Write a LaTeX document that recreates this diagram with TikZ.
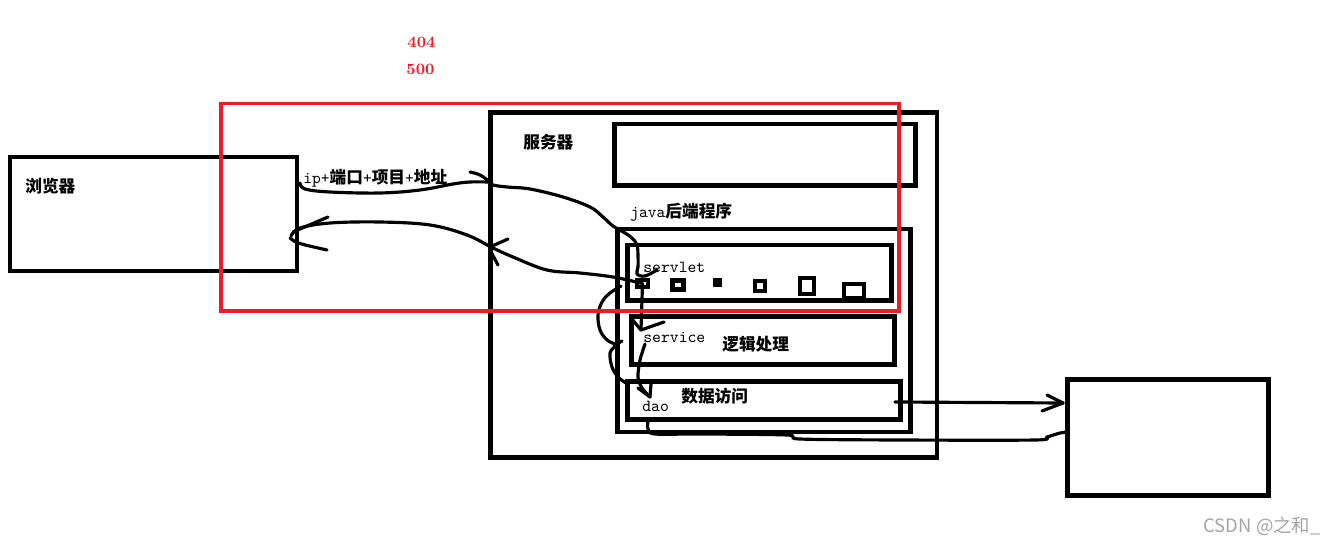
\documentclass[tikz,border=0pt]{standalone}
\usepackage{fontspec}
\newfontfamily\cjk{Noto Sans CJK SC}
\usetikzlibrary{positioning}
\definecolor{paintred}{RGB}{237,28,36}
\definecolor{markgray}{RGB}{165,165,165}

\begin{document}
\begin{tikzpicture}[x=0.02cm, y=-0.02cm,
    box/.style={draw, line width=2.8pt, inner sep=0pt, outer sep=0pt},
    redframe/.style={draw=paintred, line width=2.2pt, inner sep=0pt},
    pad/.style={draw, line width=2.4pt, inner sep=0pt},
    hand/.style={line width=1.8pt, line cap=round, line join=round},
    zh/.style={font=\cjk\bfseries\fontsize{9.5}{11}\selectfont, inner sep=0pt},
    latin/.style={font=\ttfamily\fontsize{9.6}{11}\selectfont, inner sep=0pt},
    errcode/.style={font=\bfseries\fontsize{9}{11}\selectfont, text=paintred, inner sep=0pt}
]

\fill[white] (0,0) rectangle (1337,544);
\useasboundingbox (0,0) rectangle (1337,544);

% ステータスコード
\node[errcode] (e404) at (421.5,42.5) {404};
\node[errcode] (e500) at (420.5,69.5) {500};

% 浏览器
\node[box, minimum width=5.74cm, minimum height=2.28cm] (browser) at (153.5,214) {};
\node[zh, anchor=west] (browserlabel) at (25,186) {浏览器};

% 服务器
\node[box, minimum width=8.93cm, minimum height=6.9cm] (server) at (713.75,285) {};
\node[zh, anchor=west] (serverlabel) at (523,142.5) {服务器};
\node[box, minimum width=6.02cm, minimum height=1.23cm] (topbox) at (765,154.75) {};
\node[zh, anchor=west] (javalabel) at (630,212) {{\mdseries\ttfamily java}后端程序};

% java后端程序の層
\node[box, minimum width=5.86cm, minimum height=4.06cm] (java) at (764,330.5) {};
\node[box, minimum width=5.28cm, minimum height=1.11cm] (servlet) at (759.5,272.75) {};
\node[box, minimum width=5.26cm, minimum height=0.96cm] (service) at (763,340.5) {};
\node[box, minimum width=5.46cm, minimum height=0.76cm] (dao) at (764,400.5) {};
\node[latin, anchor=west] (servletlabel) at (643,267) {servlet};
\node[latin, anchor=west] (servicelabel) at (643,337) {service};
\node[zh, anchor=west] (logiclabel) at (722,344.5) {逻辑处理};
\node[latin, anchor=west] (daolabel) at (642,406) {dao};
\node[zh, anchor=west] (datalabel) at (681,396.5) {数据访问};

% servlet の小さい四角
\node[pad, minimum width=0.22cm, minimum height=0.14cm] (pad1) at (642.5,283.5) {};
\node[pad, minimum width=0.22cm, minimum height=0.18cm] (pad2) at (678,285) {};
\node[fill, minimum size=0.18cm, inner sep=0pt] (pad3) at (717.5,282.5) {};
\node[pad, minimum size=0.19cm] (pad4) at (760,286) {};
\node[pad, minimum width=0.29cm, minimum height=0.33cm] (pad5) at (807,286) {};
\node[pad, minimum width=0.39cm, minimum height=0.27cm] (pad6) at (854,291) {};

% データベース
\node[box, minimum width=4.02cm, minimum height=2.32cm] (db) at (1168,437.5) {};

% リクエスト
\node[zh, anchor=west] (urllabel) at (303,178) {{\mdseries\ttfamily ip+}端口{\mdseries\ttfamily +}项目{\mdseries\ttfamily +}地址};
\coordinate (ipstart) at (300,183);
\coordinate (ipend) at (489,182);
\draw[hand] plot[smooth, tension=0.6] coordinates {(ipstart) (305,189) (330,192) (380,193) (420,190) (453,184) (470,182) (ipend)};
\draw[hand] plot[smooth, tension=0.6] coordinates {(470,172) (480,175) (490,182) (493,185) (507,187) (530,189) (563,197) (590,207) (603,217) (613,226) (625,233) (632,238) (637,245) (638,256) (638,267) (637,274) (645,276) (657,270)};

% servlet -> service -> dao
\coordinate (svctip) at (641,330);
\draw[hand] (pad1.center) -- (svctip);
\draw[hand] (631,318) -- (svctip) -- (664,322);
\coordinate (daotip) at (650,397);
\draw[hand] plot[smooth] coordinates {(645,344) (640,360) (638,377) (642,388) (daotip)};
\draw[hand] (638,388) -- (daotip) -- (651,384);

% dao -> servlet に戻る
\draw[hand] plot[smooth, tension=0.6] coordinates {(626,383) (618,377) (612,367) (610,353) (615,345) (607,340) (600,330) (598,315) (602,302) (610,293) (621,286)};
\draw[hand] (615,345) -- (622,341);

% レスポンス
\coordinate (backtip) at (291,236);
\draw[hand] plot[smooth, tension=0.6] coordinates {(pad1.center) (613,277) (580,273) (547,270) (513,257) (493,248) (467,235) (430,225) (380,222) (330,223) (300,228) (backtip)};
\draw[hand] (328,217) -- (293,232);
\draw[hand] (290,238) .. controls (296,243) .. (327,250);
\draw[hand] (508,239) -- (490,247);
\draw[hand] (490,250) -- (498,265);

% dao <-> データベース
\coordinate (dbin) at (1063,403);
\draw[hand] (895,402) -- (dbin);
\draw[hand] (1047,395) -- (dbin) -- (1042,411);
\draw[hand] plot[smooth, tension=0.5] coordinates {(db.west |- 0,432) (1060,433) (1047,437) (1035,440) (900,440) (800,439) (787,435) (700,434) (655,434) (648,429) (648,421)};

% 赤枠
\node[redframe, minimum width=13.56cm, minimum height=4.15cm] (focus) at (560,207.25) {};

% 透かし
\node[font=\cjk\fontsize{10.5}{12}\selectfont, text=markgray, anchor=east, inner sep=0pt] (mark) at (1321,526) {CSDN @之和\_};

\end{tikzpicture}
\end{document}
